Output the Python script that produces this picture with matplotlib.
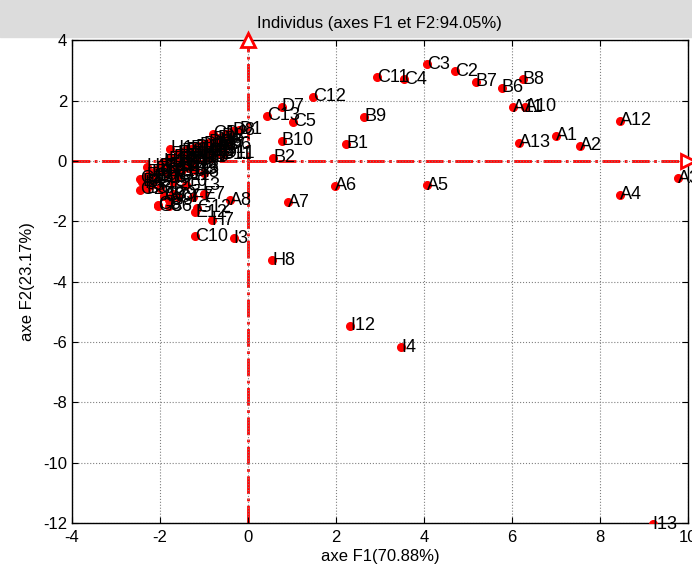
import matplotlib.pyplot as plt
from matplotlib.patches import Rectangle

plt.rcParams['font.family'] = ['Liberation Sans', 'DejaVu Sans']
plt.rcParams['axes.unicode_minus'] = False

# individus, projection on F1 / F2
names = ["A1", "A2", "A3", "A4", "A5", "A6", "A7", "A8", "A9", "A10", "A11", "A12", "A13",
         "B1", "B2", "B3", "B4", "B5", "B6", "B7", "B8", "B9", "B10", "B11", "B12", "B13",
         "C1", "C2", "C3", "C4", "C5", "C6", "C7", "C8", "C9", "C10", "C11", "C12", "C13",
         "D1", "D2", "D3", "D4", "D5", "D6", "D7", "D8", "D9", "D10", "D11", "D12", "D13",
         "E1", "E2", "E3", "E4", "E5", "E6", "E7", "E8", "E9", "E10", "E11", "E12", "E13",
         "F1", "F2", "F3", "F4", "F5", "F6", "F7", "F8", "F9", "F10", "F11", "F12", "F13",
         "G1", "G2", "G3", "G4", "G5", "G6", "G7", "G8", "G9", "G10", "G11", "G12", "G13",
         "H1", "H2", "H3", "H4", "H5", "H6", "H7", "H8", "H9", "H10", "H11", "H12", "H13",
         "I1", "I2", "I3", "I4", "I5", "I6", "I7", "I8", "I9", "I10", "I11", "I12", "I13"]
f1 = [7.00, 7.55, 9.77, 8.45, 4.07, 1.98, 0.91, -0.41, -1.90, 6.30, 6.02, 8.45, 6.16,
      2.23, 0.57, -1.20, -2.40, -2.30, 5.77, 5.18, 6.25, 2.64, 0.77, -0.60, -1.40, -1.70,
      -0.80, 4.70, 4.07, 3.55, 1.02, -1.80, -1.60, -2.05, -1.70, -1.20, 2.93, 1.48, 0.43,
      -0.20, -0.50, -0.60, -0.70, -0.80, -0.45, 0.77, -0.35, -0.90, -1.00, -0.55, -1.10, -1.20,
      -1.30, -1.40, -1.50, -1.60, -1.00, -0.80, -1.00, -1.70, -1.80, -1.90, -1.20, -1.20, -2.00,
      -1.10, -0.90, -0.70, -1.30, -1.50, -1.60, -1.25, -2.10, -2.20, -2.30, -1.80, -1.50, -1.35,
      -2.45, -2.45, -2.30, -2.20, -2.10, -2.00, -1.90, -2.05, -1.80, -1.70, -1.60, -1.15, -1.40,
      -1.77, -1.93, -2.30, -1.20, -0.95, -0.65, -0.82, 0.55, -1.45, -1.85, -0.75, -1.05, -2.15,
      -1.55, -1.25, -0.32, 3.48, -0.85, -1.65, -2.35, -1.00, -0.60, -1.35, -2.00, 2.32, 9.20]
f2 = [0.83, 0.50, -0.57, -1.13, -0.80, -0.83, -1.37, -1.30, -1.15, 1.80, 1.77, 1.33, 0.60,
      0.57, 0.10, -0.30, -0.70, -0.90, 2.43, 2.63, 2.70, 1.47, 0.67, 0.20, -0.10, -0.35,
      0.90, 2.97, 3.20, 2.70, 1.30, -1.50, -1.20, -1.45, -1.10, -2.50, 2.77, 2.13, 1.50,
      1.03, 0.90, 0.80, 0.75, 0.70, 0.55, 1.80, 1.00, 0.60, 0.55, 0.25, 0.50, 0.45,
      0.40, 0.35, 0.30, 0.25, 0.20, 0.30, -1.10, 0.10, 0.05, -0.05, 0.10, -1.70, -0.20,
      0.35, 0.45, 0.50, 0.15, 0.05, -0.10, -1.20, -0.30, -0.40, -0.50, -0.20, -0.30, -0.25,
      -0.60, -0.95, -0.70, -0.80, -0.60, -0.90, -1.15, -1.50, -1.30, -0.70, -0.50, -1.55, -0.80,
      0.40, -0.03, -0.20, 0.00, 0.15, 0.65, -1.97, -3.30, 0.20, -0.45, 0.40, 0.30, -0.55,
      -0.15, -0.10, -2.57, -6.17, 0.10, -0.60, -0.75, -0.40, 0.35, 0.05, -0.35, -5.47, -12.05]

fig = plt.figure(figsize=(6.92, 5.74), dpi=100, facecolor='white')
fig.patches.append(Rectangle((0, 0.935), 1, 0.065, transform=fig.transFigure,
                             color='#dcdcdc', zorder=-10))
ax = fig.add_axes([0.104, 0.089, 0.890, 0.841])

ax.axhline(0, color='red', ls='-.', lw=2, zorder=1)
ax.axvline(0, color='red', ls='-.', lw=2, zorder=1)
ax.plot([0], [4], '^', mfc='white', mec='red', mew=2, ms=10, clip_on=False, zorder=5)
ax.plot([10], [0], '>', mfc='white', mec='red', mew=2, ms=10, clip_on=False, zorder=5)

ax.plot(f1, f2, 'o', color='red', ms=5.5, zorder=3)
for n, x, y in zip(names, f1, f2):
    ax.text(x, y, n, ha='left', va='center', fontsize=13, zorder=4)

ax.set_xlim(-4, 10)
ax.set_ylim(-12, 4)
ax.set_xticks(range(-4, 11, 2))
ax.set_yticks(range(-12, 5, 2))
ax.grid(True, ls=':', color='gray', lw=0.8)
ax.tick_params(direction='in', top=True, right=True, labelsize=12, length=4)
ax.tick_params(axis='x', pad=5)
for s in ax.spines.values():
    s.set_linewidth(1)
ax.set_title("Individus (axes F1 et F2:94.05%)", fontsize=12, pad=9)
ax.set_xlabel("axe F1(70.88%)", fontsize=12, labelpad=3)
ax.set_ylabel("axe F2(23.17%)", fontsize=12, labelpad=6)

fig.savefig("out.png", dpi=100, facecolor=fig.get_facecolor())
